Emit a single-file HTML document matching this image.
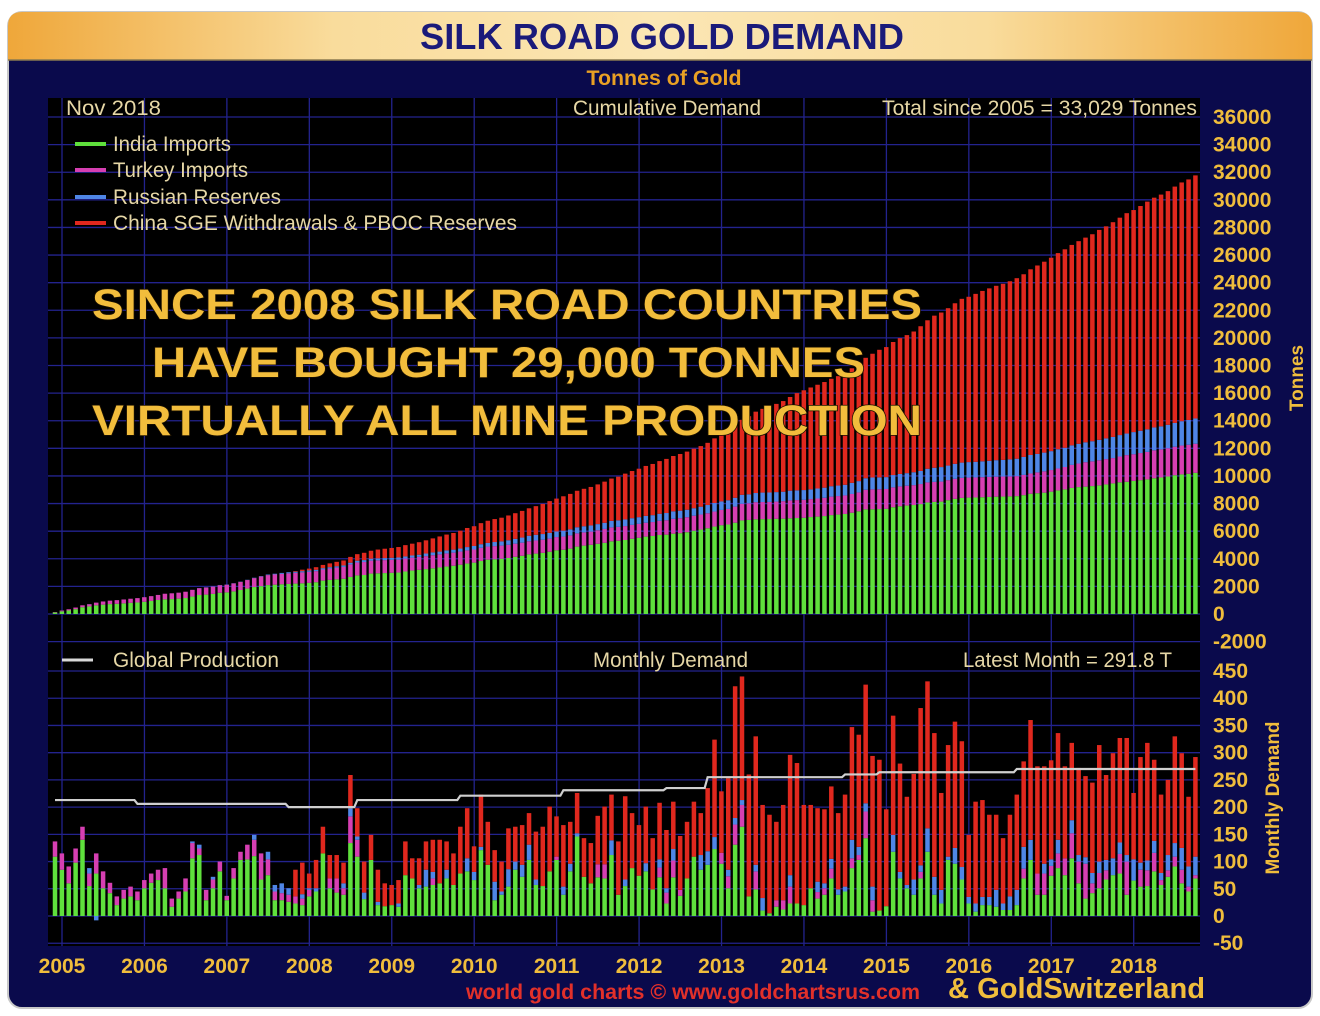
<!DOCTYPE html>
<html><head><meta charset="utf-8"><style>
html,body{margin:0;padding:0;background:#fff;}
svg{display:block;font-family:"Liberation Sans",sans-serif;}
</style></head><body>
<svg id="chart" width="1320" height="1016" viewBox="0 0 1320 1016" xmlns="http://www.w3.org/2000/svg">
<defs>
<linearGradient id="tg" x1="0" x2="1" y1="0" y2="0">
<stop offset="0" stop-color="#efa73a"/><stop offset="0.25" stop-color="#f9dc9c"/><stop offset="0.5" stop-color="#fbe6b4"/><stop offset="0.75" stop-color="#f9dc9c"/><stop offset="1" stop-color="#efa73a"/>
</linearGradient>
</defs>
<rect x="8" y="12" width="1304" height="996" rx="14" fill="#0a0a4c" stroke="#c8c8c8" stroke-width="2"/>
<path d="M8,60 L8,26 Q8,12 22,12 L1298,12 Q1312,12 1312,26 L1312,60 Z" fill="url(#tg)"/>
<line x1="8" y1="60" x2="1312" y2="60" stroke="#8a7a50" stroke-width="1.5"/>
<text x="662" y="49" text-anchor="middle" font-size="36" font-weight="bold" fill="#1a1a7a" textLength="484" lengthAdjust="spacingAndGlyphs">SILK ROAD GOLD DEMAND</text>
<text x="664" y="85" text-anchor="middle" font-size="21" font-weight="bold" fill="#e9a024" textLength="155" lengthAdjust="spacingAndGlyphs">Tonnes of Gold</text>
<rect x="48" y="98" width="1152" height="848" fill="#000"/>
<g id="grid"></g>
<g id="bars"></g>
<g id="prod"></g>
<g id="labels" font-size="21" fill="#e6d7a6" lengthAdjust="spacingAndGlyphs">
<text x="66" y="115" textLength="95" lengthAdjust="spacingAndGlyphs">Nov  2018</text>
<text x="573" y="115" textLength="188" lengthAdjust="spacingAndGlyphs">Cumulative Demand</text>
<text x="882" y="115" textLength="315" lengthAdjust="spacingAndGlyphs">Total since 2005 = 33,029 Tonnes</text>
<line x1="75" y1="144" x2="106" y2="144" stroke="#5fe03c" stroke-width="4"/>
<text x="113" y="151" textLength="118" lengthAdjust="spacingAndGlyphs">India Imports</text>
<line x1="75" y1="170" x2="106" y2="170" stroke="#d63fb2" stroke-width="4"/>
<text x="113" y="177" textLength="135" lengthAdjust="spacingAndGlyphs">Turkey Imports</text>
<line x1="75" y1="197" x2="106" y2="197" stroke="#4f86e6" stroke-width="4"/>
<text x="113" y="204" textLength="168" lengthAdjust="spacingAndGlyphs">Russian Reserves</text>
<line x1="75" y1="223" x2="106" y2="223" stroke="#e0281e" stroke-width="4"/>
<text x="113" y="230" textLength="404" lengthAdjust="spacingAndGlyphs">China SGE Withdrawals &amp; PBOC Reserves</text>
<line x1="62" y1="660" x2="93" y2="660" stroke="#d8d8d8" stroke-width="3"/>
<text x="113" y="667" textLength="166" lengthAdjust="spacingAndGlyphs">Global Production</text>
<text x="593" y="667" textLength="155" lengthAdjust="spacingAndGlyphs">Monthly Demand</text>
<text x="963" y="667" textLength="209" lengthAdjust="spacingAndGlyphs">Latest Month = 291.8 T</text>
</g>
<g font-size="43" font-weight="bold" fill="#f2bd3c" stroke="#1a1000" stroke-width="1.5" paint-order="stroke">
<text x="92" y="319" textLength="830" lengthAdjust="spacingAndGlyphs">SINCE 2008 SILK ROAD COUNTRIES</text>
<text x="152" y="377" textLength="713" lengthAdjust="spacingAndGlyphs">HAVE BOUGHT 29,000 TONNES</text>
<text x="92" y="435" textLength="830" lengthAdjust="spacingAndGlyphs">VIRTUALLY ALL MINE PRODUCTION</text>
</g>
<g id="axes" font-size="21" font-weight="bold" fill="#f0bd3c"></g>
<text transform="translate(1303,378) rotate(-90)" text-anchor="middle" font-size="19" font-weight="bold" fill="#f0bd3c">Tonnes</text>
<text transform="translate(1279,798) rotate(-90)" text-anchor="middle" font-size="19" font-weight="bold" fill="#f0bd3c">Monthly Demand</text>
<text x="466" y="999" font-size="21" font-weight="bold" fill="#e2302a" textLength="454" lengthAdjust="spacingAndGlyphs">world gold charts © www.goldchartsrus.com</text>
<text x="948" y="998" font-size="29" font-weight="bold" fill="#f0bd3c" textLength="257" lengthAdjust="spacingAndGlyphs">&amp; GoldSwitzerland</text>
</svg>
<script>
// Monthly values Jan 2005 .. Nov 2018 (167 months), tonnes
const india = [
109,85,60,98,140,55,78,51,42,20,32,36,
29,51,61,66,51,17,32,45,106,112,29,51,
82,29,69,103,104,110,67,75,29,29,26,23,
20,36,45,115,51,43,39,134,109,31,103,20,
18,20,17,75,69,51,54,57,60,69,57,78,
82,66,121,94,29,39,54,85,72,103,57,55,
82,103,39,82,146,72,60,71,69,112,39,55,
88,74,82,49,71,23,71,37,69,109,85,94,
123,96,51,131,164,36,49,10,5,17,12,23,
23,20,51,32,39,69,39,45,88,103,143,8,
10,18,118,69,51,39,69,118,39,23,103,96,
67,23,8,20,20,17,11,11,20,69,103,39,
39,74,88,75,106,60,32,42,51,67,75,78,
39,65,54,55,82,57,72,91,60,45,69];
const turkey = [
28,30,31,26,24,23,37,31,19,16,16,18,
16,15,17,19,37,15,13,24,28,12,19,16,
18,8,19,15,27,30,48,29,16,13,13,13,
12,12,0,0,18,26,12,49,31,0,0,0,
0,0,0,0,0,0,0,12,0,0,0,0,
0,0,0,0,0,0,0,0,0,0,0,0,
0,6,0,0,0,0,0,24,26,0,0,0,
0,0,0,0,18,20,31,11,0,0,0,0,
0,20,22,37,40,0,33,0,0,12,17,31,
0,0,0,12,12,18,0,0,18,9,49,21,
0,0,0,0,0,0,12,0,0,0,0,0,
0,0,0,0,0,0,0,0,0,18,0,39,
39,18,27,31,46,40,64,18,28,17,0,36,
61,0,31,29,34,9,12,18,25,9,6];
const russia = [
0,0,0,0,0,10,-8,0,0,0,0,0,
0,0,0,0,0,0,0,0,3,7,0,5,
0,0,0,0,0,9,0,14,12,18,12,0,
8,3,6,0,0,0,9,15,6,12,0,6,
0,0,6,0,0,6,31,12,0,16,0,0,
24,15,6,0,34,6,32,15,22,28,10,0,
0,0,15,14,6,0,0,0,0,27,0,12,
0,0,15,0,15,8,21,0,0,0,27,25,
22,0,12,12,9,0,12,23,0,0,0,21,
0,0,0,19,9,18,10,9,34,15,15,25,
0,0,31,12,6,28,12,43,33,25,6,29,
23,12,15,15,15,31,12,25,28,40,37,0,
18,12,25,0,24,12,12,19,21,19,31,21,
12,39,13,18,22,13,28,25,40,37,34];
const china = [
0,0,0,0,0,0,0,0,0,0,0,0,
0,0,0,0,0,0,0,0,0,0,0,0,
0,0,0,0,0,0,0,0,0,0,0,49,
58,27,52,49,43,43,38,61,52,57,46,59,
42,37,43,62,37,49,52,59,80,52,58,86,
92,47,96,79,58,55,75,64,73,58,88,109,
119,74,113,77,74,71,74,89,106,84,98,153,
101,93,104,94,104,107,87,99,104,101,77,116,
179,113,168,242,227,224,236,171,181,144,175,221,
258,184,153,135,136,133,140,169,207,206,218,240,
277,178,219,199,162,194,289,270,264,178,205,232,
231,114,187,178,151,138,120,150,175,157,220,197,
179,182,196,169,142,160,149,166,214,156,193,192,
215,122,194,216,149,144,138,196,174,128,183];
// Global production step points: month index and tonnes/month
const prodIdx = [0,12,34,44,59,74,89,95,115,120,140,166];
const prodVal = [213,206,200,213,221,231,235,255,260,264,270,270];
const years = ['2005','2006','2007','2008','2009','2010','2011','2012','2013','2014','2015','2016','2017','2018'];
const upperTicks = [36000,34000,32000,30000,28000,26000,24000,22000,20000,18000,16000,14000,12000,10000,8000,6000,4000,2000,0,-2000];
const lowerTicks = [450,400,350,300,250,200,150,100,50,0,-50];

const NS='http://www.w3.org/2000/svg';
const X0=55, DX=6.87, BW=4.5;
function xc(i){return X0+i*DX;}
function yU(v){return 614 - v*497/36000;}
function yL(v){return 916 - v*0.5444;}
function mk(tag,attrs,parent){const e=document.createElementNS(NS,tag);for(const k in attrs)e.setAttribute(k,attrs[k]);parent.appendChild(e);return e;}
const grid=document.getElementById('grid'), bars=document.getElementById('bars'), prod=document.getElementById('prod'), axes=document.getElementById('axes');
const GC='#23238e';
upperTicks.forEach(v=>{
  const l=mk('line',{x1:48,x2:1200,y1:yU(v),y2:yU(v),stroke:GC,'stroke-width':1.3},grid);
  
  
  const t=mk('text',{x:1213,y:yU(v)+7},axes);t.textContent=v;
  
  
});
lowerTicks.forEach(v=>{
  const l=mk('line',{x1:48,x2:1200,y1:yL(v),y2:yL(v),stroke:GC,'stroke-width':1.3},grid);
  
  
  const t=mk('text',{x:1213,y:yL(v)+7},axes);t.textContent=v;
  
  
});
years.forEach((y,k)=>{
  const x=xc(12*k)+7;
  const l=mk('line',{x1:x,x2:x,y1:98,y2:946,stroke:GC,'stroke-width':1.3},grid);
  
  
  const t=mk('text',{x:x,y:973,'text-anchor':'middle'},axes);t.textContent=y;
  
  
});
const cols=['#5fe03c','#d63fb2','#4f86e6','#e0281e'];
const series=[india,turkey,russia,china];
const names=['india','turkey','russia','china'];
const cum=[0,0,0,0];
for(let i=0;i<india.length;i++){
  const x=xc(i)-BW/2;
  let base=0;
  for(let s=0;s<4;s++){
    cum[s]+=series[s][i];
    const v=Math.max(cum[s],0);
    const r=mk('rect',{x:x,width:BW,y:yU(base+v),height:Math.max(0,yU(base)-yU(base+v)),fill:cols[s]},bars);
    
    
    base+=v;
  }
  let pb=0, nb=0;
  for(let s=0;s<4;s++){
    const v=series[s][i];
    if(v===0) continue;
    let y0,y1;
    if(v>0){y1=yL(pb+v);y0=yL(pb);pb+=v;}else{y1=yL(nb);y0=yL(nb+v);nb+=v;}
    const r=mk('rect',{x:x,width:BW,y:y1,height:Math.abs(y0-y1),fill:cols[s]},bars);
    
    
  }
}
let pts=[];
for(let k=0;k<prodIdx.length;k++){
  if(k>0) pts.push((xc(prodIdx[k])-3)+','+yL(prodVal[k-1]));
  pts.push(xc(prodIdx[k])+','+yL(prodVal[k]));
}
const pl=mk('polyline',{points:pts.join(' '),fill:'none',stroke:'#cfcfcf','stroke-width':2.2},prod);


</script>
</body></html>
